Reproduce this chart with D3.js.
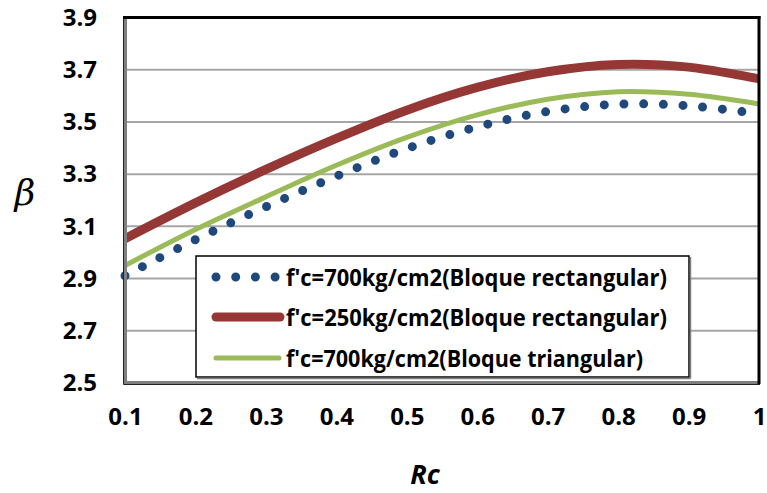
<!DOCTYPE html>
<html>
<head>
<meta charset="utf-8">
<script src="https://cdn.jsdelivr.net/npm/d3@7"></script>
<style>
  html, body { margin: 0; padding: 0; background: #fff; }
  svg { display: block; }
</style>
</head>
<body>
<svg id="chart" width="767" height="493"></svg>
<script>
// Reliability index β versus Rc for three concrete / stress-block cases
const rc = [0.1, 0.2, 0.3, 0.4, 0.5, 0.6, 0.7, 0.8, 0.9, 1.0];
const beta700Rect = [2.911, 3.049, 3.175, 3.292, 3.398, 3.481, 3.540, 3.568, 3.562, 3.531];
const beta250Rect = [3.053, 3.190, 3.318, 3.437, 3.545, 3.632, 3.692, 3.720, 3.710, 3.665];
const beta700Tri  = [2.950, 3.088, 3.213, 3.334, 3.441, 3.527, 3.587, 3.616, 3.606, 3.569];

const seriesNames = [
  "f'c=700kg/cm2(Bloque rectangular)",
  "f'c=250kg/cm2(Bloque rectangular)",
  "f'c=700kg/cm2(Bloque triangular)"
];
const xTicks = [0.1, 0.2, 0.3, 0.4, 0.5, 0.6, 0.7, 0.8, 0.9, 1];
const yTicks = [2.5, 2.7, 2.9, 3.1, 3.3, 3.5, 3.7, 3.9];

const svg = d3.select("#chart");
const pLeft = 125, pRight = 759, pTop = 17.5, pBottom = 383;

const x = d3.scaleLinear().domain([0.1, 1]).range([pLeft, pRight]);
const y = d3.scaleLinear().domain([2.5, 3.9]).range([pBottom, pTop]);

const font = "'Open Sans', 'Liberation Sans', sans-serif";

// gridlines
svg.append("g")
  .selectAll("line")
  .data(yTicks.filter(t => t > 2.5 && t < 3.9))
  .join("line")
  .attr("x1", pLeft).attr("x2", pRight)
  .attr("y1", d => y(d)).attr("y2", d => y(d))
  .attr("stroke", "#a6a6a6").attr("stroke-width", 2);

// y axis labels
const yAxis = svg.append("g")
  .attr("transform", `translate(${pLeft},0)`)
  .call(d3.axisLeft(y).tickValues(yTicks).tickFormat(d3.format(".1f")).tickSize(0).tickPadding(28));
yAxis.select(".domain").remove();
yAxis.selectAll("text")
  .attr("font-family", font).attr("font-weight", "bold")
  .attr("font-size", 24).attr("fill", "#000");

// x axis labels
const xAxis = svg.append("g")
  .attr("transform", `translate(0,${pBottom})`)
  .call(d3.axisBottom(x).tickValues(xTicks).tickFormat(d => d === 1 ? "1" : d3.format(".1f")(d)).tickSize(0).tickPadding(25));
xAxis.select(".domain").remove();
xAxis.selectAll("text")
  .attr("font-family", font).attr("font-weight", "bold")
  .attr("font-size", 24).attr("fill", "#000");

// axis titles
svg.append("text")
  .attr("x", 425).attr("y", 484)
  .attr("text-anchor", "middle")
  .attr("font-family", font).attr("font-weight", "bold").attr("font-style", "italic")
  .attr("font-size", 27).attr("fill", "#000")
  .text("Rc");

svg.append("text")
  .attr("x", 25).attr("y", 205)
  .attr("text-anchor", "middle")
  .attr("font-family", "'DejaVu Serif', 'Liberation Serif', serif").attr("font-style", "italic")
  .attr("font-size", 36).attr("fill", "#000")
  .text("β");

// curves
const line = d3.line().x(d => x(d[0])).y(d => y(d[1])).curve(d3.curveCatmullRom.alpha(0.5));
const plot = svg.append("g");

plot.append("path")
  .attr("d", line(d3.zip(rc, beta250Rect)))
  .attr("fill", "none").attr("stroke", "#953735").attr("stroke-width", 9);

plot.append("path")
  .attr("d", line(d3.zip(rc, beta700Tri)))
  .attr("fill", "none").attr("stroke", "#9bbb59").attr("stroke-width", 5);

plot.append("path")
  .attr("d", line(d3.zip(rc, beta700Rect)))
  .attr("fill", "none").attr("stroke", "#1f497d").attr("stroke-width", 9)
  .attr("stroke-linecap", "round").attr("stroke-dasharray", "0 19.7");

// plot frame
svg.append("line").attr("x1", pLeft).attr("x2", pLeft).attr("y1", pTop - 1).attr("y2", pBottom + 1)
  .attr("stroke", "#7f7f7f").attr("stroke-width", 4);
svg.append("line").attr("x1", pLeft - 1).attr("x2", pRight + 1).attr("y1", pBottom).attr("y2", pBottom)
  .attr("stroke", "#7f7f7f").attr("stroke-width", 4);
svg.append("line").attr("x1", pLeft - 1.5).attr("x2", pLeft - 1.5).attr("y1", pTop - 1).attr("y2", pBottom + 1.5)
  .attr("stroke", "#222").attr("stroke-width", 1);
svg.append("line").attr("x1", pLeft - 1.5).attr("x2", pRight + 1).attr("y1", pBottom + 1.5).attr("y2", pBottom + 1.5)
  .attr("stroke", "#222").attr("stroke-width", 1);
svg.append("line").attr("x1", pLeft - 2).attr("x2", pRight + 1.5).attr("y1", pTop).attr("y2", pTop)
  .attr("stroke", "#000").attr("stroke-width", 3);
svg.append("line").attr("x1", pRight).attr("x2", pRight).attr("y1", pTop - 1.5).attr("y2", pBottom + 1)
  .attr("stroke", "#000").attr("stroke-width", 3);

// legend
const lg = svg.append("g");
lg.append("rect")
  .attr("x", 196).attr("y", 256).attr("width", 493).attr("height", 121)
  .attr("fill", "#fff").attr("stroke", "#000").attr("stroke-width", 1.5);
lg.append("line").attr("x1", 197).attr("x2", 690.5).attr("y1", 378.5).attr("y2", 378.5)
  .attr("stroke", "#7f7f7f").attr("stroke-width", 1.5);
lg.append("line").attr("x1", 690.5).attr("x2", 690.5).attr("y1", 257).attr("y2", 378.5)
  .attr("stroke", "#7f7f7f").attr("stroke-width", 1.5);

const rowY = [277, 317, 358];
const swX1 = 216, swX2 = 279;
lg.append("line").attr("x1", swX1).attr("x2", swX2).attr("y1", rowY[0]).attr("y2", rowY[0])
  .attr("stroke", "#1f497d").attr("stroke-width", 9)
  .attr("stroke-linecap", "round").attr("stroke-dasharray", "0 19.7");
lg.append("line").attr("x1", swX1).attr("x2", swX2 + 1).attr("y1", rowY[1]).attr("y2", rowY[1])
  .attr("stroke", "#953735").attr("stroke-width", 9).attr("stroke-linecap", "round");
lg.append("line").attr("x1", swX1).attr("x2", swX2).attr("y1", rowY[2]).attr("y2", rowY[2])
  .attr("stroke", "#9bbb59").attr("stroke-width", 5).attr("stroke-linecap", "round");

const targetW = [381, 381, 357];
seriesNames.forEach((name, i) => {
  lg.append("text")
    .attr("x", 286).attr("y", rowY[i])
    .attr("dy", "0.36em")
    .attr("font-family", font).attr("font-weight", "bold")
    .attr("font-size", 24).attr("fill", "#000")
    .attr("textLength", targetW[i]).attr("lengthAdjust", "spacingAndGlyphs")
    .text(name);
});
</script>
</body>
</html>
